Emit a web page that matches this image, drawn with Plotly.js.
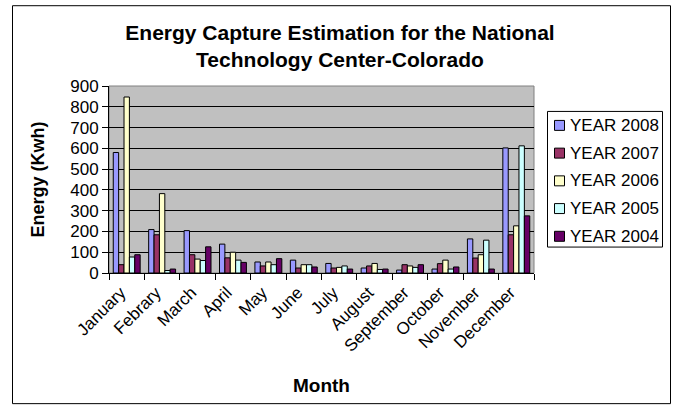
<!DOCTYPE html>
<html>
<head>
<meta charset="utf-8">
<script src="https://cdn.plot.ly/plotly-3.0.1.min.js"></script>
<style>
html,body{margin:0;padding:0;background:#fff;}
#chart{width:678px;height:412px;}
</style>
</head>
<body>
<div id="chart"></div>
<script>
var months = ["January","Febrary","March","April","May","June","July","August","September","October","November","December"];
var seriesNames = ["YEAR 2008","YEAR 2007","YEAR 2006","YEAR 2005","YEAR 2004"];
var y2008 = [580, 209, 204, 139, 53, 62, 46, 24, 14, 19, 164, 602];
var y2007 = [40, 184, 88, 73, 34, 24, 24, 34, 40, 45, 72, 184];
var y2006 = [847, 382, 67, 100, 53, 40, 27, 46, 34, 62, 88, 227];
var y2005 = [77, 12, 60, 62, 40, 40, 34, 17, 27, 19, 158, 612];
var y2004 = [88, 19, 126, 51, 69, 29, 19, 19, 40, 29, 19, 275];
var colors = ["#9999FF","#993366","#FFFFCC","#CCFFFF","#660066"];
var yTicks = [0,100,200,300,400,500,600,700,800,900];

var values = [y2008, y2007, y2006, y2005, y2004];
var traces = values.map(function(v, i){
  return {
    type: "bar",
    name: seriesNames[i],
    x: months,
    y: v,
    marker: {color: colors[i], line: {color: "#000000", width: 1}},
    showlegend: false
  };
});

var L = 109, R = 534, T = 86, B = 273.5, W = 678, H = 412;
var pw = R - L, ph = B - T;
function px(x){ return (x - L) / pw; }
function py(y){ return (B - y) / ph; }

var shapes = [
  {type: "rect", xref: "paper", yref: "paper", x0: 0, x1: 1, y0: 0, y1: 1,
   line: {color: "#808080", width: 1}, fillcolor: "rgba(0,0,0,0)", layer: "below"},
  {type: "rect", xref: "paper", yref: "paper",
   x0: px(12.5), x1: px(670.5), y0: py(404.5), y1: py(5.5),
   line: {color: "#000", width: 1}, fillcolor: "rgba(0,0,0,0)", layer: "above"},
  {type: "rect", xref: "paper", yref: "paper",
   x0: px(547.5), x1: px(662.5), y0: py(247.5), y1: py(111.5),
   line: {color: "#000", width: 1}, fillcolor: "#ffffff", layer: "above"}
];
var annotations = [];
var legTop = 125.5, legStep = 27.8;
seriesNames.forEach(function(n, i){
  var cy = legTop + i * legStep;
  shapes.push({type: "rect", xref: "paper", yref: "paper",
    x0: px(554.5), x1: px(564.5), y0: py(cy + 5), y1: py(cy - 5),
    line: {color: "#000", width: 1}, fillcolor: colors[i], layer: "above"});
  annotations.push({xref: "paper", yref: "paper", x: px(568), y: py(cy),
    xanchor: "left", yanchor: "middle", showarrow: false, text: n,
    font: {size: 17, color: "#000"}});
});

var layout = {
  width: W, height: H,
  margin: {l: L, r: W - R, t: T, b: H - B, pad: 0},
  paper_bgcolor: "#ffffff",
  plot_bgcolor: "#C0C0C0",
  font: {family: "Liberation Sans, Arial, sans-serif", size: 17, color: "#000"},
  title: {
    text: "<b>Energy Capture Estimation for the National<br>Technology Center-Colorado</b>",
    font: {size: 21, color: "#000"},
    x: (340 - L) / pw, xanchor: "center", xref: "paper",
    y: 1 - 40/H, yanchor: "middle", yref: "container"
  },
  barmode: "group",
  bargap: 0.24,
  bargroupgap: 0,
  showlegend: false,
  xaxis: {
    type: "category",
    categoryarray: months,
    tickangle: -45,
    ticks: "outside", ticklen: 6, tickcolor: "#000", tickson: "boundaries",
    showline: true, linecolor: "#000", linewidth: 1,
    showgrid: false,
    tickfont: {size: 17},
    ticklabelshift: -6,
    ticklabelstandoff: 2,
    automargin: false,
    title: {text: "<b>Month</b>", font: {size: 19}, standoff: 24}
  },
  yaxis: {
    range: [0, 900],
    tickvals: yTicks,
    ticktext: yTicks.map(String),
    ticks: "outside", ticklen: 6, tickcolor: "#000",
    showline: true, linecolor: "#000", linewidth: 1,
    showgrid: true, gridcolor: "#000", gridwidth: 1,
    zeroline: false,
    tickfont: {size: 17},
    automargin: false,
    title: {text: "<b>Energy (Kwh)</b>", font: {size: 18}, standoff: 20}
  },
  shapes: shapes,
  annotations: annotations
};

Plotly.newPlot("chart", traces, layout, {displayModeBar: false, staticPlot: true});
</script>
</body>
</html>
